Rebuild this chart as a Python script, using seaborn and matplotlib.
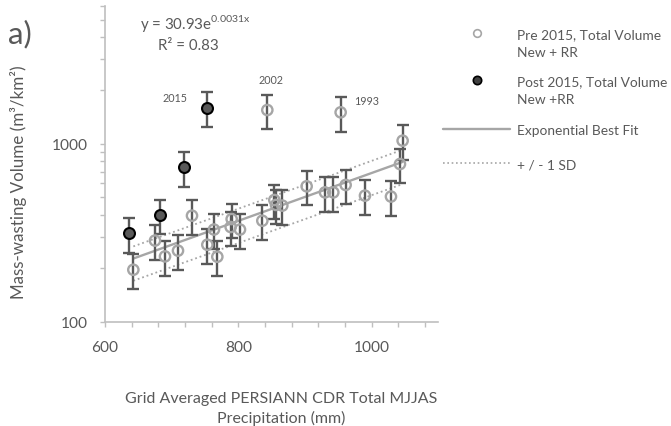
import numpy as np
import pandas as pd
import matplotlib
matplotlib.use("Agg")
import matplotlib.pyplot as plt
import seaborn as sns
from matplotlib.lines import Line2D
from matplotlib.ticker import FixedLocator, FixedFormatter, NullFormatter

# ---------------- data ----------------
pre_precip = [642.5, 675, 690, 709.5, 730.5, 753.5, 763.5, 768.5, 788.5, 790,
              802.5, 836, 843.5, 854, 856.5, 866, 902.5, 930, 942.5, 953.5,
              961, 990, 1029, 1042.5, 1046.5]
pre_volume = [196, 286, 233, 251, 395, 271, 330, 232, 341, 378,
              330, 370, 1553, 484, 454, 450, 578, 534, 534, 1507,
              588, 512, 506, 771, 1044]
post_precip = [636, 682.5, 718.5, 752.5]
post_volume = [314, 398, 739, 1601]
err_fraction = 0.22          # percentage error bars

fit_a, fit_b = 30.93, 0.0031  # y = a*exp(b*x)
sd_upper_a, sd_lower_a = 36.2, 23.2

year_labels = ["2015", "2002", "1993"]
year_label_x = [705.75, 849.75, 992.25]
year_label_y = [1753, 2204, 1673]

x_major = [600, 800, 1000]
x_minor = list(range(600, 1081, 40))
y_major = [100, 1000]
y_minor = [200, 300, 400, 500, 600, 700, 800, 900, 2000, 3000, 4000, 5000, 6000]

legend_labels = ["Pre 2015, Total Volume", "Post 2015, Total Volume",
                 "Exponential Best Fit", "+ / - 1 SD"]
legend_second_lines = ["New + RR", "New +RR"]

xlabel_lines = ["Grid Averaged PERSIANN CDR Total MJJAS", "Precipitation (mm)"]
ylabel_text = "Mass-wasting Volume (m³/km²)"
equation_text = r"y = 30.93e$^{\mathregular{0.0031x}}$"
r2_text = "R² = 0.83"

# ---------------- style ----------------
sns.set_style("white")
plt.rcParams['font.family'] = ['Lato', 'DejaVu Sans']
TEXT = '#595959'
AXIS = '#bfbfbf'
GREY = '#a6a6a6'
DARK = '#595959'

W, H = 671, 427
fig = plt.figure(figsize=(W / 100, H / 100), dpi=100)
renderer = fig.canvas.get_renderer()


def fit_size(s, target_px, base=11.0):
    t = fig.text(0, 0, s, fontsize=base)
    w = t.get_window_extent(renderer).width
    t.remove()
    return base * target_px / w


fs_tick = fit_size("1000", 36.0)
fs_xlab = fit_size(xlabel_lines[0], 312.0)
fs_ylab = fit_size(ylabel_text, 235.0)
fs_leg = fit_size(legend_labels[1], 150.0)
fs_year = fit_size("2015", 25.0)
fs_eq = fit_size(equation_text, 110.0)
fs_a = fit_size("a)", 24.0)

ax = fig.add_axes([105 / W, 1 - 322.7 / H, 333.3 / W, 316 / H])

pre = pd.DataFrame({"x": pre_precip, "y": pre_volume})
post = pd.DataFrame({"x": post_precip, "y": post_volume})

# error bars
ax.errorbar(pre.x, pre.y, yerr=err_fraction * pre.y, fmt='none', ecolor=DARK,
            elinewidth=1.7, capsize=4.3, capthick=1.7, zorder=2)
ax.errorbar(post.x, post.y, yerr=err_fraction * post.y, fmt='none', ecolor=DARK,
            elinewidth=1.7, capsize=4.3, capthick=1.7, zorder=2)

# fit lines
fit = pre.sort_values("x").copy()
fit["fit"] = fit_a * np.exp(fit_b * fit.x)
fit["up"] = sd_upper_a * np.exp(fit_b * fit.x)
fit["lo"] = sd_lower_a * np.exp(fit_b * fit.x)
sns.lineplot(data=fit, x="x", y="fit", ax=ax, color=GREY, lw=1.7, zorder=1)
sns.lineplot(data=fit, x="x", y="up", ax=ax, color=GREY, lw=1.3,
             linestyle=(0, (1, 1.6)), zorder=1)
sns.lineplot(data=fit, x="x", y="lo", ax=ax, color=GREY, lw=1.3,
             linestyle=(0, (1, 1.6)), zorder=1)

# points
sns.scatterplot(data=pre, x="x", y="y", ax=ax, marker='o', s=55,
                facecolor='none', edgecolor=GREY, linewidth=1.7, zorder=3)
sns.scatterplot(data=post, x="x", y="y", ax=ax, marker='o', s=62,
                color=DARK, edgecolor='black', linewidth=1.5, zorder=3)

ax.set_yscale('log')
ax.set_xlim(600, 1100)
ax.set_ylim(100, 6000)

ax.xaxis.set_major_locator(FixedLocator(x_major))
ax.xaxis.set_major_formatter(FixedFormatter([str(v) for v in x_major]))
ax.xaxis.set_minor_locator(FixedLocator(x_minor))
ax.xaxis.set_minor_formatter(NullFormatter())
ax.yaxis.set_major_locator(FixedLocator(y_major))
ax.yaxis.set_major_formatter(FixedFormatter([str(v) for v in y_major]))
ax.yaxis.set_minor_locator(FixedLocator(y_minor))
ax.yaxis.set_minor_formatter(NullFormatter())

ax.tick_params(which='both', direction='out', length=3.6, width=1.0,
               color=AXIS, labelcolor=TEXT, labelsize=fs_tick)
ax.tick_params(axis='x', which='both', pad=9.5)
ax.tick_params(axis='y', which='both', pad=8.5)
ax.tick_params(which='both', bottom=True, left=True)

for s in ['top', 'right']:
    ax.spines[s].set_visible(False)
for s in ['left', 'bottom']:
    ax.spines[s].set_color(AXIS)
    ax.spines[s].set_linewidth(1.2)

fs_xlab_px = fs_xlab * 100 / 72
ax.set_xlabel("\n".join(xlabel_lines), color=TEXT, fontsize=fs_xlab,
              linespacing=23.0 / fs_xlab_px, ha='center', va='center')
ax.xaxis.set_label_coords((281 - 105) / 333.3, -(409 - 322.7) / 316)
ax.set_ylabel(ylabel_text, color=TEXT, fontsize=fs_ylab, va='center', ha='center')
ax.yaxis.set_label_coords((18.5 - 105) / 333.3, (322.7 - 182.5) / 316)

# year annotations
for lab, xx, yy in zip(year_labels, year_label_x, year_label_y):
    ax.text(xx, yy, lab, color=TEXT, fontsize=fs_year, ha='center', va='baseline')

# equation
fig.text(140 / W, 1 - 28.5 / H, equation_text,
         color=TEXT, fontsize=fs_eq, ha='left', va='baseline')
fig.text(188.5 / W, 1 - 50 / H, r2_text, color=TEXT, fontsize=fs_eq,
         ha='center', va='baseline')

# panel label
fig.text(8 / W, 1 - 43 / H, "a)", color=TEXT, fontsize=fs_a, ha='left', va='baseline')

# legend
handles = [
    Line2D([], [], ls='none', marker='o', ms=5.5, mfc='white', mec=GREY, mew=1.2),
    Line2D([], [], ls='none', marker='o', ms=6, mfc='#404040', mec='black', mew=1.2),
    Line2D([], [], color=GREY, lw=1.7),
    Line2D([], [], color=GREY, lw=1.2, ls=(0, (1, 1.6))),
]
legend_y = [35, 82, 131, 165]
fs_px = fs_leg * 100 / 72
for h, lab, yy in zip(handles, legend_labels, legend_y):
    leg = fig.legend(handles=[h], labels=[lab], loc='center left',
                     bbox_to_anchor=(443 / W, 1 - yy / H), frameon=False,
                     fontsize=fs_leg, borderpad=0, borderaxespad=0,
                     handlelength=67 / fs_px, handletextpad=7 / fs_px)
    for t in leg.get_texts():
        t.set_color(TEXT)
for lab, yy in zip(legend_second_lines, [53, 100]):
    fig.text(517 / W, 1 - yy / H, lab, color=TEXT, fontsize=fs_leg, ha='left', va='center')

fig.savefig("out.png", dpi=100)
